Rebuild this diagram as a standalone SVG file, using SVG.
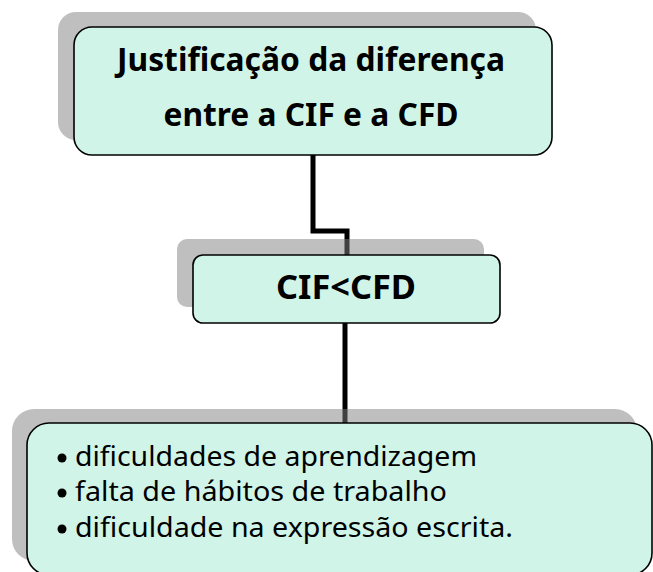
<svg xmlns="http://www.w3.org/2000/svg" width="653" height="572" viewBox="0 0 653 572">
<style>
.shadow{fill:#808080;fill-opacity:0.5}
.box{fill:#D0F5E8;stroke:#000;stroke-width:1.6}
.conn{fill:none;stroke:#000;stroke-width:5}
.t{font-family:"Noto Sans","Open Sans","DejaVu Sans",sans-serif;fill:#000}
.b{font-weight:bold;font-size:33px}
.c{font-weight:bold;font-size:34px}
.r{font-size:26.5px}
</style>
<rect width="653" height="572" fill="#fff"/>
<g id="connectors">
<polyline class="conn" points="313,155 313,231 347,231 347,255"/>
<line class="conn" x1="345" y1="323" x2="345" y2="423"/>
</g>
<g id="node-justificacao">
<rect class="shadow" x="58" y="12" width="478" height="128" rx="18"/>
<rect class="box" x="74" y="27" width="478" height="128" rx="18"/>
<text class="t b" x="311" y="71" text-anchor="middle" textLength="388" lengthAdjust="spacingAndGlyphs">Justificação da diferença</text>
<text class="t b" x="311" y="126" text-anchor="middle" textLength="295" lengthAdjust="spacingAndGlyphs">entre a CIF e a CFD</text>
</g>
<g id="node-cif">
<rect class="shadow" x="177" y="239" width="307" height="68" rx="10"/>
<rect class="box" x="193" y="255" width="307" height="68" rx="10"/>
<text class="t c" x="346" y="299" text-anchor="middle" textLength="140" lengthAdjust="spacingAndGlyphs">CIF&lt;CFD</text>
</g>
<g id="node-razoes">
<rect class="shadow" x="12" y="409" width="625" height="152" rx="22"/>
<rect class="box" x="27" y="423" width="625" height="152" rx="22"/>
<circle cx="62" cy="458" r="4.5"/>
<circle cx="62" cy="493" r="4.5"/>
<circle cx="62" cy="529" r="4.5"/>
<text class="t r" x="75" y="466" textLength="402" lengthAdjust="spacingAndGlyphs">dificuldades de aprendizagem</text>
<text class="t r" x="75" y="501" textLength="372" lengthAdjust="spacingAndGlyphs">falta de hábitos de trabalho</text>
<text class="t r" x="75" y="537" textLength="438" lengthAdjust="spacingAndGlyphs">dificuldade na expressão escrita.</text>
</g>
</svg>
